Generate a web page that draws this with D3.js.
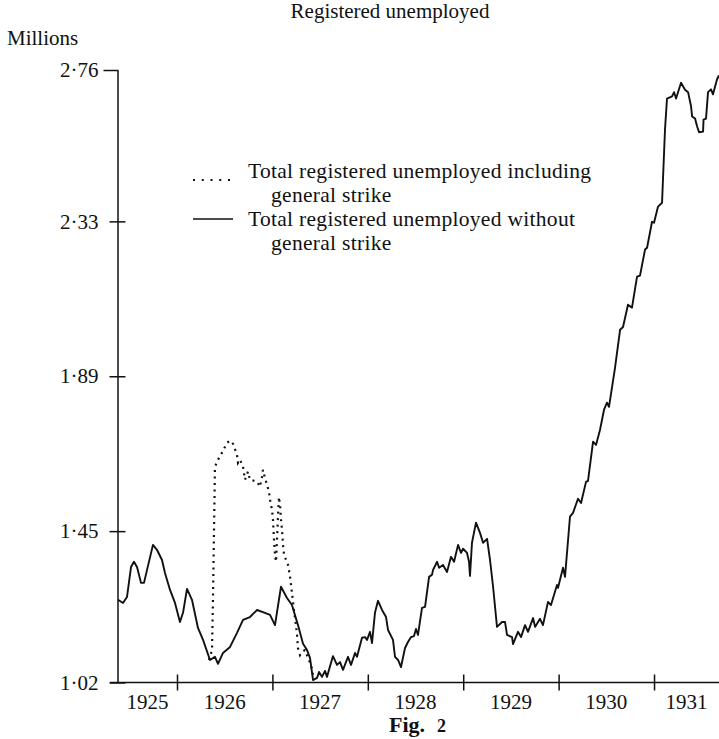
<!DOCTYPE html>
<html><head><meta charset="utf-8">
<script src="https://cdn.jsdelivr.net/npm/d3@7"></script>
<style>
body{margin:0;background:#fff}
svg{display:block}
text{font-family:"Liberation Serif","Times New Roman",serif;fill:#111}
</style>
</head><body><svg id="c" width="719" height="739"></svg>
<script>
const yearTicks = [1926, 1927, 1928, 1929, 1930, 1931];
const yearLabels = [1925, 1926, 1927, 1928, 1929, 1930, 1931];
const valueTicks = [1.02, 1.45, 1.89, 2.33, 2.76];

// Total registered unemployed without general strike (millions), by date (decimal year)
const weeks = [1925.382,1925.434,1925.476,1925.518,1925.549,1925.581,1925.623,1925.654,1925.686,1925.748,
1925.790,1925.843,1925.874,1925.927,1925.979,1926.031,1926.063,1926.105,1926.157,1926.220,
1926.273,1926.346,1926.398,1926.430,1926.482,1926.556,1926.629,1926.692,1926.765,1926.839,
1926.901,1926.975,1927.027,1927.090,1927.153,1927.205,1927.268,1927.321,1927.363,1927.394,
1927.426,1927.468,1927.489,1927.520,1927.551,1927.572,1927.635,1927.677,1927.709,1927.740,
1927.792,1927.824,1927.866,1927.887,1927.939,1927.971,1927.992,1928.023,1928.044,1928.075,
1928.107,1928.149,1928.191,1928.212,1928.264,1928.285,1928.317,1928.348,1928.390,1928.421,
1928.453,1928.484,1928.505,1928.526,1928.568,1928.600,1928.642,1928.673,1928.684,1928.726,
1928.747,1928.788,1928.830,1928.872,1928.904,1928.946,1928.977,1928.998,1929.040,1929.061,
1929.071,1929.092,1929.134,1929.176,1929.208,1929.250,1929.281,1929.313,1929.354,1929.407,
1929.438,1929.459,1929.512,1929.522,1929.574,1929.606,1929.648,1929.679,1929.732,1929.753,
1929.805,1929.836,1929.889,1929.920,1929.983,1929.994,1930.046,1930.067,1930.119,1930.151,
1930.203,1930.235,1930.287,1930.308,1930.361,1930.392,1930.434,1930.476,1930.507,1930.528,
1930.591,1930.644,1930.675,1930.727,1930.769,1930.822,1930.853,1930.906,1930.927,1930.979,
1931.000,1931.042,1931.084,1931.115,1931.136,1931.189,1931.210,1931.231,1931.283,1931.325,
1931.357,1931.388,1931.399,1931.430,1931.451,1931.472,1931.514,1931.519,1931.545,1931.566,
1931.597,1931.618,1931.660,1931.680];
const unemployed = [1.255,1.246,1.263,1.348,1.363,1.348,1.303,1.303,1.340,1.411,
1.397,1.368,1.331,1.283,1.246,1.192,1.218,1.286,1.255,1.175,
1.141,1.084,1.093,1.073,1.104,1.121,1.161,1.198,1.206,1.226,
1.220,1.212,1.183,1.292,1.260,1.240,1.183,1.130,1.112,1.090,
1.027,1.033,1.050,1.036,1.053,1.036,1.095,1.070,1.078,1.056,
1.093,1.070,1.104,1.093,1.147,1.149,1.141,1.164,1.132,1.218,
1.252,1.226,1.206,1.169,1.141,1.093,1.084,1.064,1.118,1.135,
1.149,1.152,1.172,1.155,1.232,1.235,1.320,1.326,1.340,1.363,
1.346,1.354,1.334,1.377,1.363,1.411,1.388,1.400,1.388,1.363,
1.323,1.417,1.474,1.445,1.417,1.428,1.368,1.292,1.178,1.192,
1.192,1.155,1.149,1.129,1.164,1.149,1.183,1.164,1.203,1.178,
1.201,1.183,1.249,1.240,1.297,1.289,1.346,1.320,1.491,1.502,
1.542,1.530,1.590,1.593,1.704,1.695,1.738,1.795,1.815,1.803,
1.914,2.022,2.030,2.093,2.085,2.173,2.176,2.250,2.255,2.329,
2.326,2.372,2.383,2.591,2.679,2.685,2.697,2.679,2.724,2.704,
2.697,2.657,2.628,2.622,2.600,2.583,2.585,2.619,2.622,2.697,
2.705,2.691,2.733,2.745];

// Total registered unemployed including general strike (millions)
const strikeWeeks = [1926.335,1926.367,1926.377,1926.388,1926.398,1926.430,1926.472,1926.524,1926.556,1926.587,
1926.629,1926.639,1926.660,1926.692,1926.713,1926.744,1926.765,1926.807,1926.839,1926.870,
1926.891,1926.901,1926.922,1926.943,1926.964,1926.975,1926.996,1927.006,1927.017,1927.027,
1927.038,1927.048,1927.059,1927.069,1927.080,1927.090,1927.101,1927.111,1927.122,1927.143,
1927.164,1927.185,1927.205,1927.226,1927.247,1927.258,1927.268,1927.289,1927.310,1927.342,
1927.373,1927.405,1927.436];
const strikeUnemployed = [1.084,1.112,1.255,1.454,1.633,1.653,1.673,1.701,1.707,1.698,
1.667,1.644,1.653,1.633,1.596,1.619,1.596,1.593,1.590,1.576,
1.604,1.624,1.601,1.582,1.562,1.539,1.510,1.482,1.425,1.383,
1.363,1.425,1.496,1.547,1.525,1.482,1.454,1.411,1.383,1.368,
1.354,1.320,1.275,1.226,1.183,1.155,1.118,1.098,1.107,1.112,
1.090,1.070,1.027];

const titleText = "Registered unemployed";
const unitText = "Millions";
const legendLines = [
  ["Total registered unemployed including", "general strike"],
  ["Total registered unemployed without", "general strike"]
];

const svg = d3.select("#c");
const ink = "#111";
const x = d3.scaleLinear().domain([1925.3816, 1931.681]).range([118, 719]);
const y = d3.scaleLinear().domain([1.02, 2.76]).range([682.5, 70]);

// title & unit
svg.append("text").attr("x", 390).attr("y", 18).attr("text-anchor", "middle")
  .style("font-size", "21px").text(titleText);
svg.append("text").attr("x", 7).attr("y", 45).style("font-size", "21px").text(unitText);

// y axis
const yAxis = svg.append("g").attr("transform", "translate(117.5,0)")
  .call(d3.axisLeft(y).tickValues(valueTicks).tickSizeOuter(0).tickSize(0).tickPadding(19)
    .tickFormat(d => d.toFixed(2).replace(".", "\u00B7")));
yAxis.select(".domain").attr("stroke", ink).attr("stroke-width", 1.5);
yAxis.selectAll(".tick line").attr("x1", -8).attr("x2", 8).attr("stroke", ink).attr("stroke-width", 1.5);
yAxis.selectAll(".tick text").style("font-size", "21px").style("font-family", '"Liberation Serif",serif').attr("fill", ink);
yAxis.selectAll(".tick").filter(d => d === 2.76).select("line").attr("x1", -14).attr("x2", 1);

// x axis
const xAxis = svg.append("g").attr("transform", "translate(0,682.5)")
  .call(d3.axisBottom(x).tickValues(yearTicks).tickSize(0).tickFormat(""));
xAxis.select(".domain").remove();
xAxis.append("line").attr("x1", 110).attr("x2", 719).attr("stroke", ink).attr("stroke-width", 1.5);
xAxis.selectAll(".tick line").attr("y1", -8).attr("y2", 8).attr("stroke", ink).attr("stroke-width", 1.5);
const [d0, d1] = x.domain();
svg.append("g").selectAll("text").data(yearLabels).join("text")
  .attr("x", d => (x(Math.max(d, d0)) + x(Math.min(d + 1, d1))) / 2)
  .attr("y", 709).attr("text-anchor", "middle").style("font-size", "21px").text(d => d);

// caption
const cap = svg.append("text").attr("x", 389).attr("y", 732).style("font-size", "22px").style("font-weight", "bold");
cap.append("tspan").text("Fig.");
cap.append("tspan").attr("dx", 12).style("font-size", "18px").text("2");

// series
const solid = weeks.map((w, i) => [w, unemployed[i]]);
const dotted = strikeWeeks.map((w, i) => [w, strikeUnemployed[i]]);
const line = d3.line().x(d => x(d[0])).y(d => y(d[1]));
svg.append("path").attr("d", line(dotted)).attr("fill", "none").attr("stroke", ink)
  .attr("stroke-width", 2.2).attr("stroke-dasharray", "2 4.5");
svg.append("path").attr("d", line(solid)).attr("fill", "none").attr("stroke", ink)
  .attr("stroke-width", 1.9).attr("stroke-linejoin", "round");

// legend
const leg = svg.append("g");
leg.append("line").attr("x1", 193).attr("x2", 231).attr("y1", 180).attr("y2", 180)
  .attr("stroke", ink).attr("stroke-width", 2.2).attr("stroke-dasharray", "2 6.75");
leg.append("line").attr("x1", 193).attr("x2", 233).attr("y1", 219).attr("y2", 219)
  .attr("stroke", ink).attr("stroke-width", 1.6);
const rows = [[248, 178, legendLines[0][0]], [271, 202, legendLines[0][1]],
              [248, 226, legendLines[1][0]], [271, 250, legendLines[1][1]]];
leg.selectAll("text").data(rows).join("text")
  .attr("x", d => d[0]).attr("y", d => d[1]).style("font-size", "21.5px")
  .style("letter-spacing", "0.3px").text(d => d[2]);
</script>
</body></html>
